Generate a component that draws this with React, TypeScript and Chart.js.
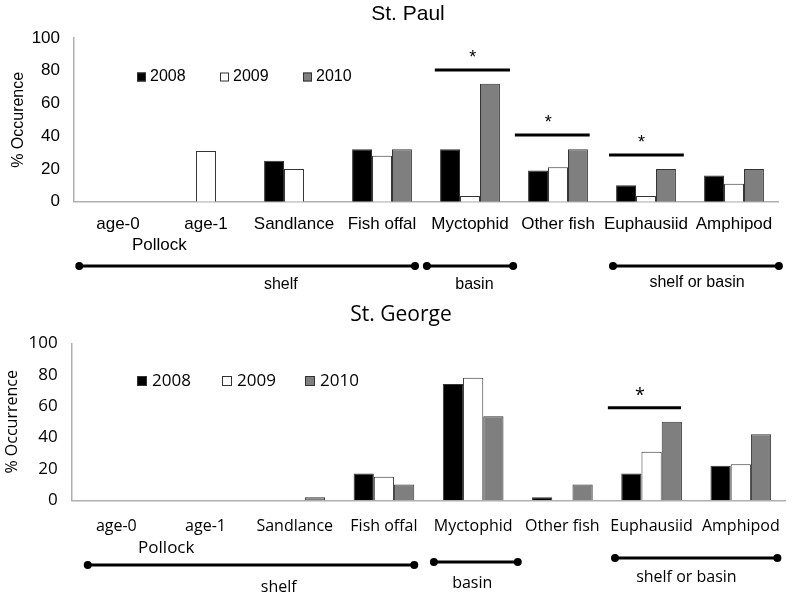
import { useEffect, useRef } from "react";
import { Chart, registerables } from "chart.js";

Chart.register(...registerables);

// ---------- data ----------
const categories = ["age-0", "age-1", "Sandlance", "Fish offal", "Myctophid", "Other fish", "Euphausiid", "Amphipod"];
const years = ["2008", "2009", "2010"];
const yTicks = [0, 20, 40, 60, 80, 100];

const paul2008 = [0, 0, 25, 32, 32, 19, 10, 16];
const paul2009 = [0, 31, 20, 28, 3.5, 21, 3.5, 11];
const paul2010 = [0, 0, 0, 32, 72, 32, 20, 20];

const george2008 = [0, 0, 0, 17, 74, 2, 17, 22];
const george2009 = [0, 0, 0, 15, 78, 0, 31, 23];
const george2010 = [0, 0, 2, 10, 53.5, 10, 50, 42];

// significance bars (category-index units, value level)
const paulSigStart = [3.6, 4.51, 5.58];
const paulSigEnd = [4.455, 5.36, 6.43];
const paulSigLevel = [80.5, 40.7, 28.5];
const paulSigStar = [4.03, 4.89, 5.95];

const georgeSigStart = [5.51];
const georgeSigEnd = [6.33];
const georgeSigLevel = [59];
const georgeSigStar = [5.87];

// habitat groupings
const habitatNames = ["shelf", "basin", "shelf or basin"];
const paulHabStart = [-0.44, 3.51, 5.625];
const paulHabEnd = [3.375, 4.49, 7.51];
const paulHabLabel = [1.85, 4.05, 6.58];
const georgeHabStart = [-0.32, 3.56, 5.59];
const georgeHabEnd = [3.34, 4.5, 7.41];
const georgeHabLabel = [1.82, 3.99, 6.39];

const colors = ["#000000", "#ffffff", "#7f7f7f"];

type Panel = {
  title: string;
  yTitle: string;
  family: string;
  titleSize: number;
  titleX: number;
  titleY: number;
  values: number[][];
  padTop: number;
  padRight: number;
  yWidth: number;
  xHeight: number;
  xPad: number;
  xSize: number;
  yTitleX: number;
  legendY: number;
  legendX: number[];
  legendSize: number;
  legendBox: number;
  legendGap: number;
  pollockIdx: number;
  pollockY: number;
  sigStart: number[];
  sigEnd: number[];
  sigLevel: number[];
  sigStar: number[];
  habStart: number[];
  habEnd: number[];
  habLabel: number[];
  habY: number[];
  habLabelY: number[];
  habSize: number;
};

const panels: Panel[] = [
  {
    title: "St. Paul",
    yTitle: "% Occurence",
    family: "'Liberation Sans', Arial, sans-serif",
    titleSize: 21,
    titleX: 408,
    titleY: 14,
    values: [paul2008, paul2009, paul2010],
    padTop: 38,
    padRight: 19,
    yWidth: 74,
    xHeight: 97.3,
    xPad: 12,
    xSize: 17,
    yTitleX: 19,
    legendY: 77,
    legendX: [137, 220, 303],
    legendSize: 16,
    legendBox: 9,
    legendGap: 13,
    pollockIdx: 0.47,
    pollockY: 245,
    sigStart: paulSigStart,
    sigEnd: paulSigEnd,
    sigLevel: paulSigLevel,
    sigStar: paulSigStar,
    habStart: paulHabStart,
    habEnd: paulHabEnd,
    habLabel: paulHabLabel,
    habY: [266, 266, 266],
    habLabelY: [285, 285, 283],
    habSize: 16,
  },
  {
    title: "St. George",
    yTitle: "% Occurrence",
    family: "'Open Sans', 'Noto Sans', sans-serif",
    titleSize: 21,
    titleX: 401,
    titleY: 16,
    values: [george2008, george2009, george2010],
    padTop: 44.3,
    padRight: 5,
    yWidth: 71.7,
    xHeight: 97.7,
    xPad: 17,
    xSize: 16,
    yTitleX: 12,
    legendY: 82,
    legendX: [137, 222, 305],
    legendSize: 17,
    legendBox: 10,
    legendGap: 15,
    pollockIdx: 0.56,
    pollockY: 249,
    sigStart: georgeSigStart,
    sigEnd: georgeSigEnd,
    sigLevel: georgeSigLevel,
    sigStar: georgeSigStar,
    habStart: georgeHabStart,
    habEnd: georgeHabEnd,
    habLabel: georgeHabLabel,
    habY: [266, 263, 259],
    habLabelY: [288, 284, 278],
    habSize: 16,
  },
];

function makeChart(canvas: HTMLCanvasElement, p: Panel) {
  const font = (size: number) => `${size}px ${p.family}`;
  const overlay = {
    id: "overlay",
    afterDraw(chart: any) {
      const ctx = chart.ctx as CanvasRenderingContext2D;
      const xs = chart.scales.x;
      const ys = chart.scales.y;
      const area = chart.chartArea;
      const p0 = xs.getPixelForValue(0);
      const unit = xs.getPixelForValue(1) - p0;
      const ix = (i: number) => p0 + i * unit;
      ctx.save();
      ctx.fillStyle = "#000";
      ctx.textAlign = "center";
      ctx.textBaseline = "middle";
      // title
      ctx.font = font(p.titleSize);
      ctx.fillText(p.title, p.titleX, p.titleY);
      // y title
      ctx.save();
      ctx.translate(p.yTitleX, (area.top + area.bottom) / 2);
      ctx.rotate(-Math.PI / 2);
      ctx.font = font(16);
      ctx.fillText(p.yTitle, 0, 0);
      ctx.restore();
      // legend
      ctx.font = font(p.legendSize);
      ctx.textAlign = "left";
      const bs = p.legendBox;
      years.forEach((yr, k) => {
        const bx = p.legendX[k];
        ctx.fillStyle = colors[k];
        ctx.fillRect(bx, p.legendY - bs / 2, bs, bs);
        ctx.strokeStyle = "#333";
        ctx.lineWidth = 1;
        ctx.strokeRect(bx + 0.5, p.legendY - bs / 2 + 0.5, bs - 1, bs - 1);
        ctx.fillStyle = "#000";
        ctx.fillText(yr, bx + p.legendGap, p.legendY);
      });
      // Pollock
      ctx.textAlign = "center";
      ctx.font = font(17);
      ctx.fillText("Pollock", ix(p.pollockIdx), p.pollockY);
      // significance
      ctx.strokeStyle = "#000";
      ctx.lineWidth = 3;
      p.sigLevel.forEach((lvl, k) => {
        const y = ys.getPixelForValue(lvl);
        ctx.beginPath();
        ctx.moveTo(ix(p.sigStart[k]), y);
        ctx.lineTo(ix(p.sigEnd[k]), y);
        ctx.stroke();
        ctx.font = font(18);
        ctx.fillText("*", ix(p.sigStar[k]), y - 12);
      });
      // habitat
      ctx.font = font(p.habSize);
      habitatNames.forEach((name, k) => {
        const y = p.habY[k];
        const a = ix(p.habStart[k]);
        const b = ix(p.habEnd[k]);
        ctx.lineWidth = 3;
        ctx.beginPath();
        ctx.moveTo(a, y);
        ctx.lineTo(b, y);
        ctx.stroke();
        [a, b].forEach((x) => {
          ctx.beginPath();
          ctx.arc(x, y, 4, 0, Math.PI * 2);
          ctx.fill();
        });
        ctx.fillText(name, ix(p.habLabel[k]), p.habLabelY[k]);
      });
      ctx.restore();
    },
  };

  return new Chart(canvas, {
    type: "bar",
    data: {
      labels: categories,
      datasets: years.map((yr, k) => ({
        label: yr,
        data: p.values[k],
        backgroundColor: colors[k],
        borderColor: "#333333",
        borderWidth: 1,
        categoryPercentage: 0.68,
        barPercentage: 1,
      })),
    },
    options: {
      responsive: false,
      animation: false,
      layout: { padding: { top: p.padTop, right: p.padRight, left: 0, bottom: 0 } },
      plugins: { legend: { display: false }, title: { display: false }, tooltip: { enabled: false } },
      scales: {
        x: {
          grid: { display: false, drawTicks: false },
          border: { display: true, color: "#b0b0b0", width: 1.5 },
          ticks: { color: "#000", font: { family: p.family, size: p.xSize }, padding: p.xPad, maxRotation: 0, autoSkip: false },
          afterFit: (s: any) => {
            s.height = p.xHeight;
          },
        },
        y: {
          min: 0,
          max: 100,
          afterBuildTicks: (s: any) => {
            s.ticks = yTicks.map((v) => ({ value: v }));
          },
          grid: { display: false, drawTicks: false },
          border: { display: true, color: "#b0b0b0", width: 1.5 },
          ticks: { color: "#000", font: { family: p.family, size: 17 }, padding: 14 },
          afterFit: (s: any) => {
            s.width = p.yWidth;
          },
        },
      },
    },
    plugins: [overlay],
  } as any);
}

export default function App() {
  const topRef = useRef<HTMLCanvasElement>(null);
  const botRef = useRef<HTMLCanvasElement>(null);
  useEffect(() => {
    const c1 = makeChart(topRef.current!, panels[0]);
    const c2 = makeChart(botRef.current!, panels[1]);
    return () => {
      c1.destroy();
      c2.destroy();
    };
  }, []);
  return (
    <div style={{ position: "absolute", left: 0, top: 0, width: 797, height: 598, background: "#fff" }}>
      <canvas ref={topRef} width={797} height={299} style={{ display: "block", width: 797, height: 299 }} />
      <canvas ref={botRef} width={797} height={299} style={{ display: "block", width: 797, height: 299 }} />
    </div>
  );
}
